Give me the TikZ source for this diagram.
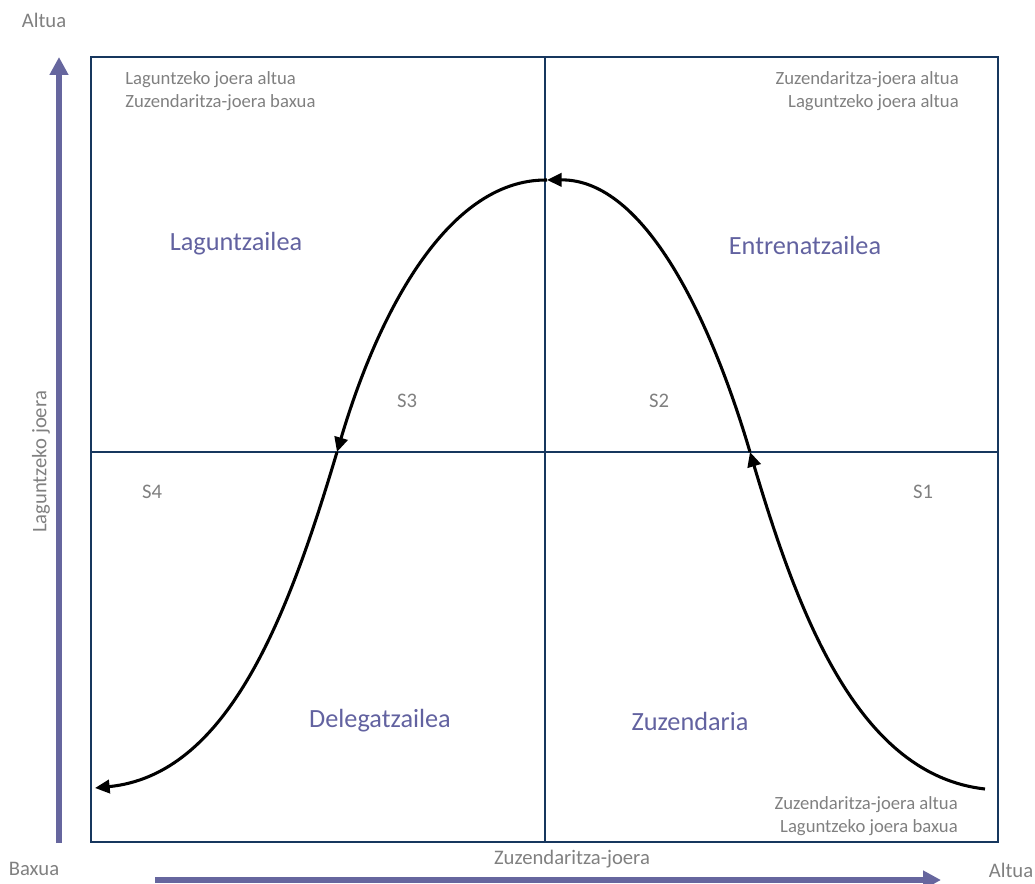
\documentclass[tikz,border=0pt]{standalone}
\usepackage{fontspec}
\setmainfont{Carlito}
\usetikzlibrary{arrows.meta}
\definecolor{boxblue}{RGB}{23,55,94}
\definecolor{axispurple}{RGB}{102,102,158}
\definecolor{labelpurple}{RGB}{98,98,160}
\definecolor{txtgray}{RGB}{128,128,128}
\tikzset{
  frame/.style={draw=boxblue, line width=1.6pt},
  axisarrow/.style={draw=axispurple, line width=4.5pt, -{Triangle[length=13.5pt,width=13.5pt]}},
  curve/.style={draw=black, line width=2.3pt, -{Triangle[length=11pt,width=10pt]}},
  axislabel/.style={text=txtgray, font=\fontsize{15.5}{18}\selectfont, inner sep=0pt},
  cornerlabel/.style={text=txtgray, font=\fontsize{14}{17.25}\selectfont, inner sep=0pt},
  slabel/.style={text=txtgray, font=\fontsize{15.5}{18}\selectfont, inner sep=0pt},
  quadlabel/.style={text=labelpurple, font=\fontsize{19.7}{23}\selectfont, inner sep=0pt},
}
\begin{document}
\begin{tikzpicture}[x=0.75pt, y=-0.75pt]
\useasboundingbox (0,0) rectangle (1035,884);
% frame and quadrants
\coordinate (tl) at (91,57);
\coordinate (br) at (998,842);
\draw[frame] (tl) rectangle (br);
\coordinate (vt) at (545,57);
\coordinate (vb) at (545,842);
\coordinate (hl) at (91,452);
\coordinate (hr) at (998,452);
\draw[frame] (vt) -- (vb);
\draw[frame] (hl) -- (hr);
% axes
\coordinate (ya) at (59,843);
\coordinate (yb) at (59,57);
\draw[axisarrow] (ya) -- (yb);
\coordinate (xa) at (155,880);
\coordinate (xb) at (941,880);
\draw[axisarrow] (xa) -- (xb);
% axis labels
\node[axislabel] (altuaT) at (44,20) {Altua};
\node[axislabel] (baxua) at (34,869) {Baxua};
\node[axislabel] (altuaR) at (1011,870) {Altua};
\node[axislabel] (zj) at (572,859) {Zuzendaritza-joera};
\node[axislabel, rotate=90] (lj) at (41,462) {Laguntzeko joera};
% corner labels
\node[cornerlabel, align=left, anchor=north west] (ctl) at (125,71) {Laguntzeko joera altua\\Zuzendaritza-joera baxua};
\node[cornerlabel, align=right, anchor=north east] (ctr) at (959,71) {Zuzendaritza-joera altua\\Laguntzeko joera altua};
\node[cornerlabel, align=right, anchor=north east] (cbr) at (958,796) {Zuzendaritza-joera altua\\Laguntzeko joera baxua};
% quadrant labels
\node[quadlabel] (q1) at (236,244) {Laguntzailea};
\node[quadlabel] (q2) at (805,245) {Entrenatzailea};
\node[quadlabel] (q3) at (380,721) {Delegatzailea};
\node[quadlabel] (q4) at (690,721) {Zuzendaria};
% S labels
\node[slabel] (s3) at (407,401) {S3};
\node[slabel] (s2) at (659,401) {S2};
\node[slabel] (s4) at (152,492) {S4};
\node[slabel] (s1) at (923,492) {S1};
% curve
\coordinate (p0) at (985,789);
\coordinate (p1) at (750,452);
\coordinate (p2) at (547,180);
\coordinate (p3) at (337,452);
\coordinate (p4) at (95,788);
\draw[curve] (p0) .. controls (860,775) and (800,620) .. (p1);
\draw[curve] (p1) .. controls (711,320) and (645,179) .. (p2);
\draw[curve] (p2) .. controls (445,179) and (376,320) .. (p3);
\draw[curve] (p3) .. controls (287,620) and (227,775) .. (p4);
\end{tikzpicture}
\end{document}
